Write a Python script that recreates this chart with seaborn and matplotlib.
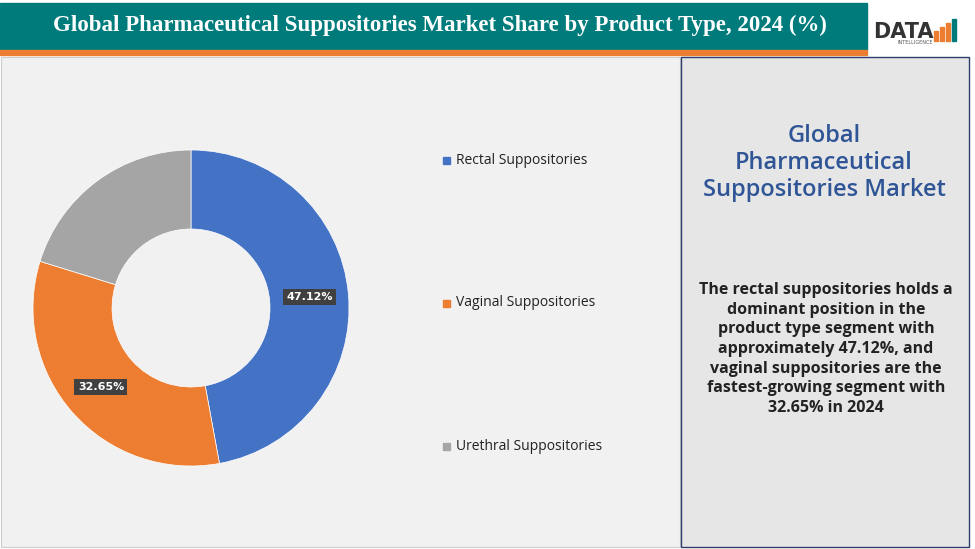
import matplotlib.pyplot as plt
import seaborn as sns
from matplotlib.patches import Rectangle

sns.set_theme(style="white")
plt.rcParams['font.family'] = ['Liberation Serif', 'DejaVu Sans']

categories = ["Rectal Suppositories", "Vaginal Suppositories", "Urethral Suppositories"]
shares = [47.12, 32.65, 20.23]
colors = ["#4472c4", "#ed7d31", "#a5a5a5"]

W, H = 975, 549
fig = plt.figure(figsize=(W / 100, H / 100), dpi=100)
bg = fig.add_axes([0, 0, 1, 1])
bg.set_xlim(0, W)
bg.set_ylim(H, 0)
bg.axis("off")

# header
bg.add_patch(Rectangle((0, 3), 867, 47, color="#007b7b"))
bg.add_patch(Rectangle((0, 50), 867, 5, color="#ed7d31"))
bg.text(440, 25, "Global Pharmaceutical Suppositories Market Share by Product Type, 2024 (%)",
        color="white", fontsize=16.5, fontweight="bold", ha="center", va="center")
bg.text(903, 32, "DATA", color="#333333", fontsize=15, fontweight="bold",
        family="DejaVu Sans", ha="center", va="center")
for i, (hgt, c) in enumerate([(10, "#ed7d31"), (14, "#ed7d31"), (18, "#ed7d31"), (22, "#007b7b")]):
    bg.add_patch(Rectangle((934 + i * 6, 41 - hgt), 4, hgt, color=c))
bg.text(915, 43, "INTELLIGENCE", color="#555555", fontsize=3.5, family="DejaVu Sans",
        ha="center", va="center")

# panels
bg.add_patch(Rectangle((1, 57), 679, 490, facecolor="#f1f1f1", edgecolor="#cccccc", lw=0.8))
bg.add_patch(Rectangle((681, 57), 288, 490, facecolor="#e6e6e6", edgecolor="#2f3c6e", lw=1))
bg.text(824, 163, "Global\nPharmaceutical\nSuppositories Market", color="#2f5597",
        fontsize=17, fontweight="semibold", ha="center", va="center", family="Open Sans",
        linespacing=1.15)
bg.text(826, 349, "The rectal suppositories holds a\ndominant position in the\nproduct type segment with\n"
        "approximately 47.12%, and\nvaginal suppositories are the\nfastest-growing segment with\n32.65% in 2024",
        color="#222222", fontsize=11.5, fontweight="bold", ha="center", va="center",
        family="Open Sans", linespacing=1.3)

# donut
ax = fig.add_axes([33 / W, 1 - 466 / H, 316 / W, 316 / H])
wedges, _ = ax.pie(shares, colors=colors, startangle=90, counterclock=False,
                   wedgeprops=dict(width=0.5, edgecolor="white", linewidth=0.5))
ax.set_xlim(-1, 1)
ax.set_ylim(-1, 1)
ax.set_aspect("equal")
for val, pos in [(shares[0], (0.75, 0.07)), (shares[1], (-0.57, -0.5))]:
    ax.text(*pos, f"{val:.2f}%", color="white", fontsize=8, fontweight="bold",
            family="DejaVu Sans", ha="center", va="center",
            bbox=dict(boxstyle="square,pad=0.3", fc="#404040", ec="none"))

# legend
for name, c, y in zip(categories, colors, [160, 303, 446]):
    bg.add_patch(Rectangle((443, y - 3.5), 7, 7, color=c))
    bg.text(456, y, name, fontsize=10, color="#222222", family="Open Sans", va="center")

fig.savefig("out.png", dpi=100)
